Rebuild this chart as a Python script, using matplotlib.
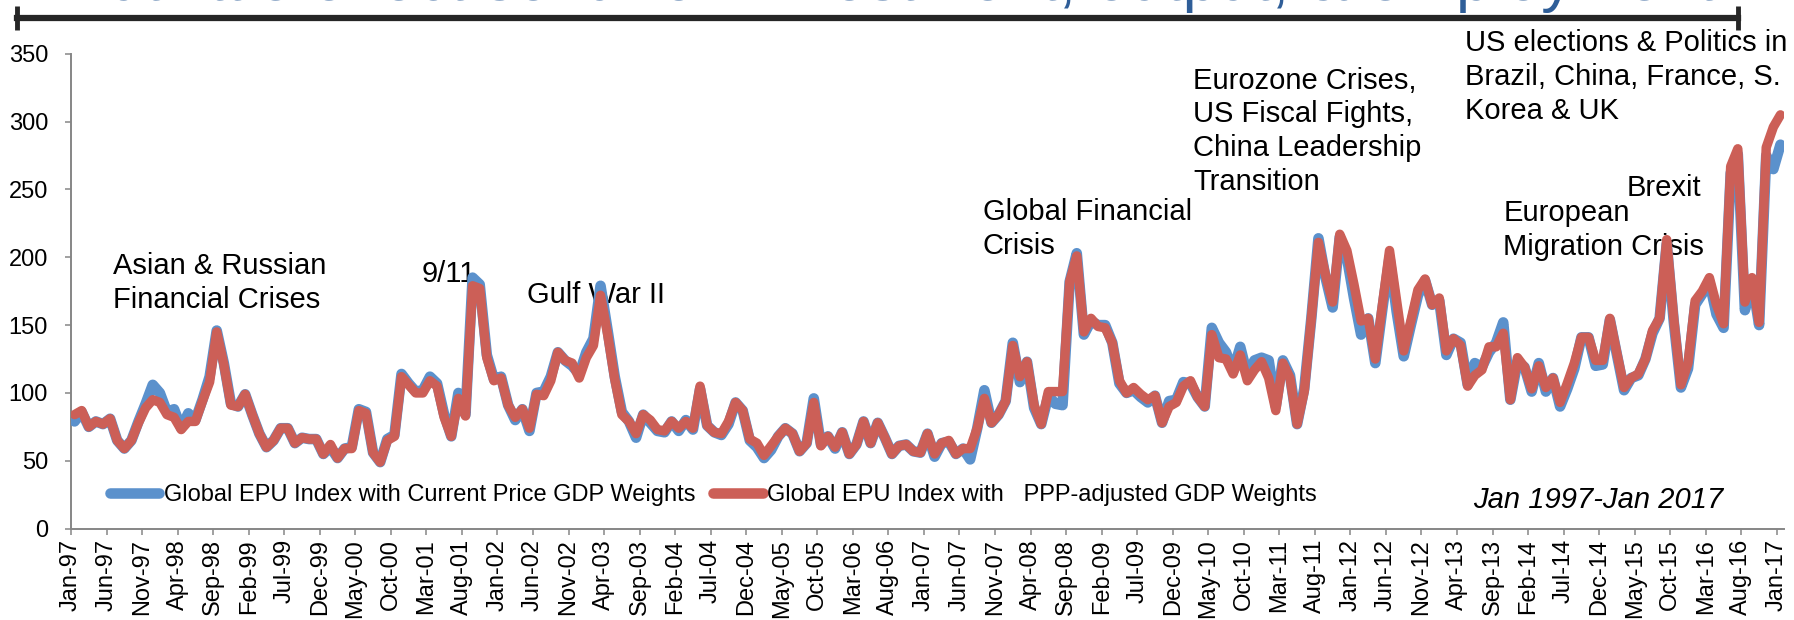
import matplotlib.pyplot as plt
import numpy as np
from matplotlib.lines import Line2D

plt.rcParams['font.family'] = ['Liberation Sans', 'DejaVu Sans']

# x tick labels, one every 5 months, Jan 1997 - Jan 2017
tick_labels = ['Jan-97', 'Jun-97', 'Nov-97', 'Apr-98', 'Sep-98', 'Feb-99', 'Jul-99',
               'Dec-99', 'May-00', 'Oct-00', 'Mar-01', 'Aug-01', 'Jan-02', 'Jun-02',
               'Nov-02', 'Apr-03', 'Sep-03', 'Feb-04', 'Jul-04', 'Dec-04', 'May-05',
               'Oct-05', 'Mar-06', 'Aug-06', 'Jan-07', 'Jun-07', 'Nov-07', 'Apr-08',
               'Sep-08', 'Feb-09', 'Jul-09', 'Dec-09', 'May-10', 'Oct-10', 'Mar-11',
               'Aug-11', 'Jan-12', 'Jun-12', 'Nov-12', 'Apr-13', 'Sep-13', 'Feb-14',
               'Jul-14', 'Dec-14', 'May-15', 'Oct-15', 'Mar-16', 'Aug-16', 'Jan-17']

# monthly index values
epu_ppp = [
    84, 87, 75, 79, 77, 81, 65, 59, 65, 78,
    89, 95, 93, 84, 82, 73, 79, 79, 94, 108,
    145, 121, 91, 90, 99, 84, 70, 60, 65, 74,
    74, 63, 67, 66, 66, 55, 62, 52, 59, 59,
    87, 85, 56, 49, 65, 68, 112, 106, 100, 100,
    109, 105, 82, 68, 96, 83, 179, 177, 126, 109,
    111, 91, 82, 88, 74, 99, 98, 109, 130, 124,
    122, 111, 126, 135, 172, 143, 110, 84, 79, 70,
    84, 80, 73, 72, 79, 74, 79, 74, 105, 76,
    71, 70, 79, 93, 87, 66, 63, 54, 61, 68,
    74, 70, 57, 63, 93, 61, 68, 60, 71, 55,
    62, 79, 63, 78, 67, 55, 61, 62, 57, 56,
    70, 55, 63, 65, 55, 59, 59, 74, 96, 78,
    84, 94, 135, 112, 123, 91, 77, 101, 101, 101,
    182, 201, 145, 155, 149, 148, 137, 109, 100, 104,
    99, 95, 98, 78, 90, 93, 105, 109, 97, 90,
    143, 126, 125, 114, 128, 109, 117, 123, 111, 87,
    122, 111, 77, 101, 155, 211, 187, 167, 217, 205,
    180, 153, 155, 125, 165, 205, 168, 131, 153, 176,
    184, 165, 170, 131, 140, 135, 105, 113, 117, 134,
    134, 144, 95, 126, 119, 103, 120, 104, 111, 93,
    107, 122, 141, 141, 124, 124, 155, 129, 104, 111,
    114, 125, 146, 155, 213, 154, 106, 122, 168, 175,
    185, 165, 151, 267, 280, 167, 185, 152, 281, 296,
    305]

epu_current = [
    79, 86, 75, 79, 77, 81, 65, 59, 65, 79,
    92, 106, 100, 86, 88, 74, 85, 80, 95, 112,
    146, 122, 92, 90, 99, 84, 70, 60, 65, 74,
    74, 63, 67, 66, 66, 55, 60, 52, 59, 60,
    88, 86, 56, 49, 66, 69, 114, 107, 101, 102,
    112, 107, 84, 68, 100, 84, 185, 180, 128, 110,
    112, 91, 80, 88, 72, 100, 101, 112, 130, 124,
    120, 114, 130, 140, 179, 146, 112, 86, 79, 67,
    84, 78, 72, 71, 79, 72, 80, 73, 103, 76,
    71, 69, 77, 93, 87, 65, 60, 52, 58, 68,
    74, 70, 57, 63, 96, 62, 68, 59, 71, 55,
    62, 79, 63, 78, 67, 55, 61, 62, 57, 56,
    70, 53, 63, 64, 55, 59, 51, 74, 102, 78,
    84, 94, 137, 108, 123, 89, 77, 98, 92, 91,
    182, 203, 143, 153, 150, 150, 137, 107, 100, 102,
    97, 93, 98, 78, 94, 95, 108, 107, 97, 90,
    148, 137, 130, 116, 134, 113, 124, 126, 124, 90,
    124, 113, 77, 103, 155, 214, 185, 163, 215, 200,
    170, 143, 155, 122, 162, 200, 160, 127, 150, 172,
    183, 165, 168, 128, 140, 137, 106, 122, 119, 130,
    137, 152, 95, 123, 119, 101, 122, 101, 111, 90,
    103, 118, 141, 141, 120, 121, 154, 128, 102, 111,
    113, 125, 144, 155, 210, 152, 104, 118, 165, 173,
    182, 158, 148, 262, 276, 161, 183, 150, 275, 265,
    283]

label_current = 'Global EPU Index with Current Price GDP Weights'
label_ppp = 'Global EPU Index with   PPP-adjusted GDP Weights'

# event annotations: text, month position, index level
events = [
    ('Asian & Russian\nFinancial Crises', 5.9, 181),
    ('9/11', 49.3, 188),
    ('Gulf War II', 64.2, 172),
    ('Global Financial\nCrisis', 128.3, 221),
    ('Eurozone Crises,\nUS Fiscal Fights,\nChina Leadership\nTransition', 157.9, 293),
    ('US elections & Politics in\nBrazil, China, France, S.\nKorea & UK', 196.1, 333),
    ('Brexit', 218.9, 251),
    ('European\nMigration Crisis', 201.5, 220),
]

blue = '#5B91CC'
red = '#CC5F57'
grey = '#868686'

months = np.arange(len(epu_ppp)) + 0.5

fig = plt.figure(figsize=(17.94, 6.2), dpi=100)
ax = fig.add_axes([71 / 1794, 1 - 528.6 / 620, 1713 / 1794, 474.8 / 620])

ax.plot(months, epu_current, color=blue, lw=7.6, solid_joinstyle='round',
        solid_capstyle='round', zorder=3)
ax.plot(months, epu_ppp, color=red, lw=6.8, solid_joinstyle='round',
        solid_capstyle='round', zorder=4)

ax.set_xlim(0, 241)
ax.set_ylim(0, 350)
ax.set_yticks(np.arange(0, 351, 50))
ax.set_xticks(np.arange(0, 241, 5))
ax.set_xticklabels(tick_labels, rotation=90)
ax.tick_params(axis='both', labelsize=17, color=grey, width=1.1, length=4.5)
ax.tick_params(axis='y', pad=12)
ax.tick_params(axis='x', pad=3)

for side in ['top', 'right']:
    ax.spines[side].set_visible(False)
for side in ['left', 'bottom']:
    ax.spines[side].set_color(grey)
    ax.spines[side].set_linewidth(1.4)

for text, x, y in events:
    ax.text(x, y, text, fontsize=21, ha='left', va='center', linespacing=1.26,
            zorder=1, clip_on=False)

ax.text(197.2, 21, 'Jan 1997-Jan 2017', fontsize=21, style='italic',
        ha='left', va='center')

handles = [Line2D([], [], color=blue, lw=7.6, solid_capstyle='round'),
           Line2D([], [], color=red, lw=7.6, solid_capstyle='round')]
ax.legend(handles, [label_current, label_ppp], loc='center left',
          bbox_to_anchor=(0.0225, 0.071), ncol=2, frameon=False, fontsize=17,
          handlelength=2.1, handletextpad=0.2, columnspacing=0.75,
          borderpad=0, borderaxespad=0)

# clipped slide heading and rule above the chart
fig.text(1715 / 1794, 1 - 0.3 / 620, 'But little effect so far on investment, output, & employment',
         fontsize=46, color='#2F5E98', ha='right', va='baseline')
fig.add_artist(Line2D([17 / 1794, 1738 / 1794], [1 - 17.5 / 620] * 2,
                      transform=fig.transFigure, color='#262626', lw=4.5))
fig.add_artist(Line2D([17 / 1794, 1738 / 1794], [1 - 17.5 / 620] * 2,
                      transform=fig.transFigure, color='#262626', ls='none',
                      marker='|', markersize=17, markeredgewidth=3.5))

fig.savefig('out.png', dpi=100)
